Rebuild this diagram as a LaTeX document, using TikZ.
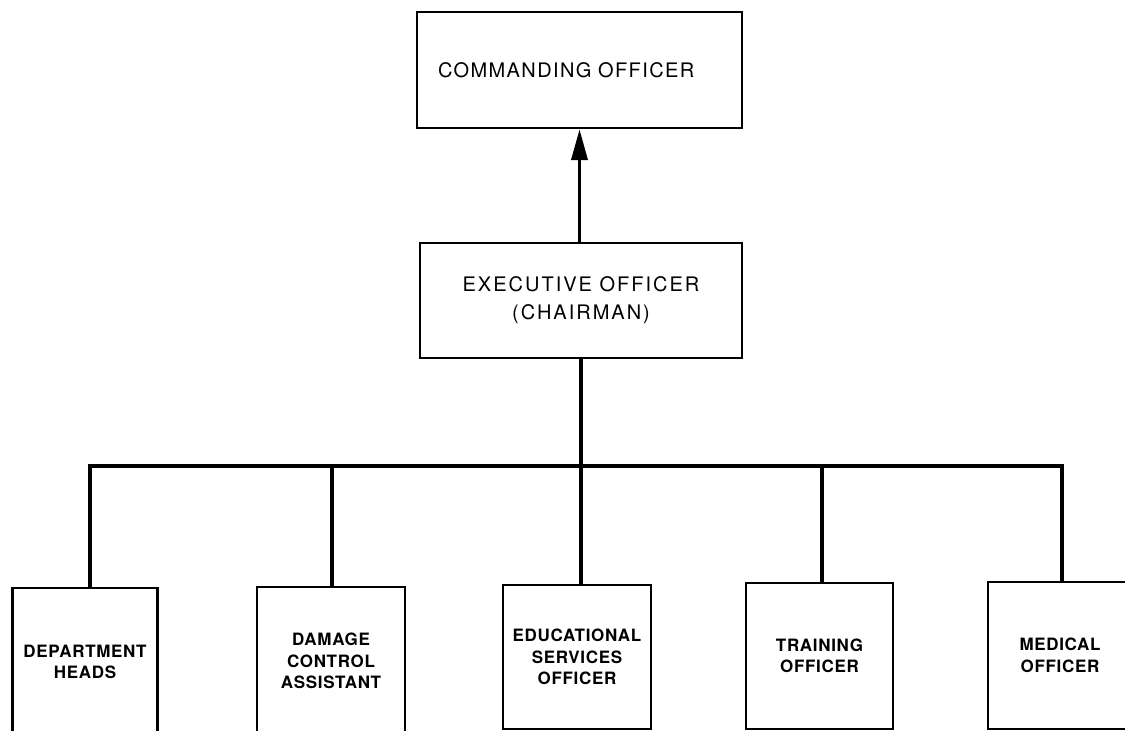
\documentclass[tikz,border=0pt]{standalone}
\usepackage{fontspec}
\setmainfont{TeX Gyre Heros}
\newfontfamily\topfont[LetterSpace=7]{TeX Gyre Heros}
\newfontfamily\xofont[LetterSpace=10]{TeX Gyre Heros}
\newfontfamily\botfont[LetterSpace=4]{TeX Gyre Heros}
\usetikzlibrary{arrows.meta}
\tikzset{
  box/.style={draw, line width=2.4pt, inner sep=0pt, align=center},
  toptext/.style={font=\topfont\fontsize{20}{28}\selectfont},
  xotext/.style={font=\xofont\fontsize{20}{28}\selectfont},
  bottext/.style={font=\botfont\bfseries\fontsize{17}{21.5}\selectfont},
  conn/.style={line width=3.8pt},
  arr/.style={line width=3.8pt, -{Triangle[length=31pt,width=16pt]}}
}
\begin{document}
\begin{tikzpicture}[x=1pt,y=-1pt]
\useasboundingbox (0,0) rectangle (1125,731);
\clip (0,0) rectangle (1125,731);
\fill[white] (0,0) rectangle (1125,731);

% top boxes
\node[box, toptext, minimum width=325pt, minimum height=116pt, text width=283pt, align=left] (co) at (579.5,70) {COMMANDING OFFICER};
\node[box, xotext, minimum width=322pt, minimum height=115pt] (xo) at (581,300.5) {EXECUTIVE OFFICER\\(CHAIRMAN)};

% bottom boxes
\node[box, bottext, minimum width=145pt, minimum height=148pt] (dh) at (85,662) {DEPARTMENT\\HEADS};
\node[box, bottext, minimum width=148pt, minimum height=148pt] (dca) at (331,661) {DAMAGE\\CONTROL\\ASSISTANT};
\node[box, bottext, minimum width=148pt, minimum height=144pt] (eso) at (577,657) {EDUCATIONAL\\SERVICES\\OFFICER};
\node[box, bottext, minimum width=147pt, minimum height=146pt] (to) at (819.5,656) {TRAINING\\OFFICER};
\node[box, bottext, minimum width=144pt, minimum height=147pt] (mo) at (1060,655.5) {MEDICAL\\OFFICER};

% arrow XO -> CO
\draw[arr] (xo.north -| co.south) -- (co.south);

% bus
\coordinate (bl) at (90,466);
\coordinate (b2) at (332,466);
\coordinate (b4) at (822,466);
\coordinate (br) at (1062,466);
\draw[conn] (bl |- dh.north) -- (bl) -- (br) -- (br |- mo.north);
\draw[conn] (xo.south) -- (xo.south |- eso.north);
\draw[conn] (b2) -- (b2 |- dca.north);
\draw[conn] (b4) -- (b4 |- to.north);
\end{tikzpicture}
\end{document}
